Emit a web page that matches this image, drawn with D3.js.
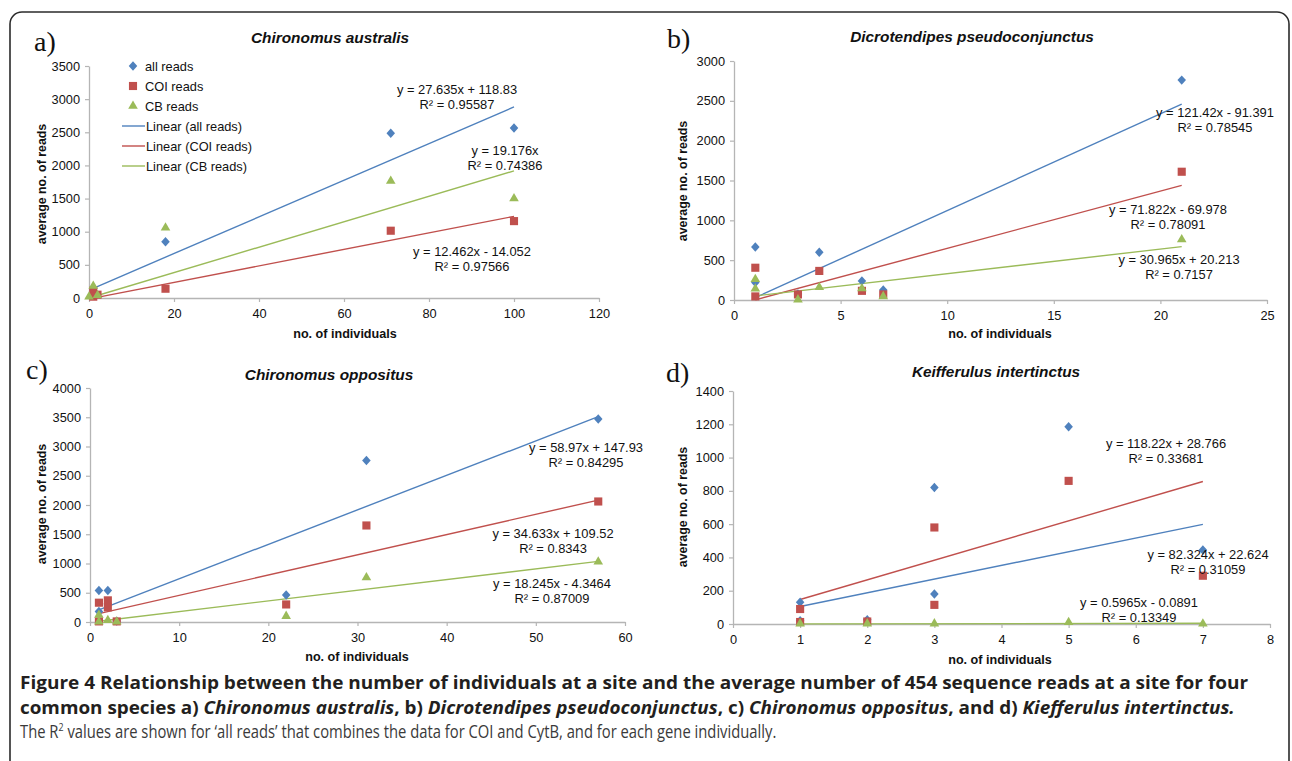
<!DOCTYPE html>
<html>
<head>
<meta charset="utf-8">
<script src="https://cdn.jsdelivr.net/npm/d3@7"></script>
<style>
body { margin: 0; background: #fff; }
</style>
</head>
<body>
<svg width="1292" height="761"></svg>
<script>
// ---- data: [no. of individuals, average no. of reads] ----
// a) Chironomus australis
var aAll = [[1,140],[1,40],[18,850],[71,2485],[100,2565]];
var aCOI = [[1,110],[2,50],[1,20],[18,140],[71,1015],[100,1160]];
var aCB  = [[1,180],[0,20],[2,40],[18,1060],[71,1765],[100,1500]];
var aFit = [[27.635,118.83],[12.462,-14.052],[19.176,0]];      // all, COI, CB
var aEq  = [["y = 27.635x + 118.83","R² = 0.95587"],
            ["y = 12.462x - 14.052","R² = 0.97566"],
            ["y = 19.176x","R² = 0.74386"]];
var aXTicks = [0,20,40,60,80,100,120];
var aYTicks = [0,500,1000,1500,2000,2500,3000,3500];

// b) Dicrotendipes pseudoconjunctus
var bAll = [[1,665],[1,220],[3,75],[4,598],[6,240],[7,125],[21,2760]];
var bCOI = [[1,405],[1,45],[3,70],[4,365],[6,115],[7,70],[21,1610]];
var bCB  = [[1,260],[1,140],[3,5],[4,160],[6,145],[7,45],[21,760]];
var bFit = [[121.42,-91.391],[71.822,-69.978],[30.965,20.213]];
var bEq  = [["y = 121.42x - 91.391","R² = 0.78545"],
            ["y = 71.822x - 69.978","R² = 0.78091"],
            ["y = 30.965x + 20.213","R² = 0.7157"]];
var bXTicks = [0,5,10,15,20,25];
var bYTicks = [0,500,1000,1500,2000,2500,3000];

// c) Chironomus oppositus
var cAll = [[1,540],[2,540],[1,180],[3,15],[22,460],[31,2760],[57,3470]];
var cCOI = [[1,330],[2,370],[2,250],[3,10],[1,10],[22,300],[31,1650],[57,2060]];
var cCB  = [[1,120],[1,5],[2,30],[3,5],[22,100],[31,760],[57,1030]];
var cFit = [[58.97,147.93],[34.633,109.52],[18.245,-4.3464]];
var cEq  = [["y = 58.97x + 147.93","R² = 0.84295"],
            ["y = 34.633x + 109.52","R² = 0.8343"],
            ["y = 18.245x - 4.3464","R² = 0.87009"]];
var cXTicks = [0,10,20,30,40,50,60];
var cYTicks = [0,500,1000,1500,2000,2500,3000,3500,4000];

// d) Keifferulus intertinctus
var dAll = [[1,130],[1,20],[2,25],[3,820],[3,180],[5,1185],[7,445]];
var dCOI = [[1,90],[1,12],[2,15],[3,580],[3,115],[5,860],[7,290]];
var dCB  = [[1,2],[2,2],[3,2],[5,10],[7,1]];
var dFit = [[82.324,22.624],[118.22,28.766],[0.5965,-0.0891]];
var dEq  = [["y = 82.324x + 22.624","R² = 0.31059"],
            ["y = 118.22x + 28.766","R² = 0.33681"],
            ["y = 0.5965x - 0.0891","R² = 0.13349"]];
var dXTicks = [0,1,2,3,4,5,6,7,8];
var dYTicks = [0,200,400,600,800,1000,1200,1400];

var seriesNames = ["all reads","COI reads","CB reads"];
var colors = ["#4f81bd","#c0504d","#9bbb59"];

var diamond = { draw: function(ctx, size) {
  var r = Math.sqrt(size) / 2;
  ctx.moveTo(0,-r); ctx.lineTo(r*0.9,0); ctx.lineTo(0,r); ctx.lineTo(-r*0.9,0); ctx.closePath();
}};
var shapes = [d3.symbol().type(diamond).size(90),
              d3.symbol().type(d3.symbolSquare).size(66),
              d3.symbol().type(d3.symbolTriangle).size(40)];

var panels = [
  {letter:"a)", title:"Chironomus australis", series:[aAll,aCOI,aCB], fit:aFit, eq:aEq,
   xt:aXTicks, yt:aYTicks, box:[89,599,66,298], let:[34,51], tt:[330,43],
   xl:[345,338], yl:[46,184], eqPos:[[457,94],[472,256],[505,155]], legend:true},
  {letter:"b)", title:"Dicrotendipes pseudoconjunctus", series:[bAll,bCOI,bCB], fit:bFit, eq:bEq,
   xt:bXTicks, yt:bYTicks, box:[734,1267,61,300], let:[667,48], tt:[972,42],
   xl:[1000,338], yl:[687,181], eqPos:[[1215,117],[1168,214],[1179,264]]},
  {letter:"c)", title:"Chironomus oppositus", series:[cAll,cCOI,cCB], fit:cFit, eq:cEq,
   xt:cXTicks, yt:cYTicks, box:[90,625,388,622], let:[26,379], tt:[329,380],
   xl:[357,661], yl:[46,504], eqPos:[[586,452],[553,538],[552,588]]},
  {letter:"d)", title:"Keifferulus intertinctus", series:[dAll,dCOI,dCB], fit:dFit, eq:dEq,
   xt:dXTicks, yt:dYTicks, box:[733,1270,391,624], let:[666,382], tt:[996,377],
   xl:[1000,664], yl:[687,507], eqPos:[[1208,559],[1166,448],[1139,607]]}
];

var svg = d3.select("svg");
var sans = "Liberation Sans, Arial, sans-serif";

// rounded frame
svg.append("rect")
   .attr("x", 10).attr("y", 12)
   .attr("width", 1279).attr("height", 800)
   .attr("rx", 12)
   .attr("fill", "none")
   .attr("stroke", "#2b2b2b")
   .attr("stroke-width", 1.6);

panels.forEach(function(p) {
  var x = d3.scaleLinear().domain(d3.extent(p.xt)).range([p.box[0], p.box[1]]);
  var y = d3.scaleLinear().domain(d3.extent(p.yt)).range([p.box[3], p.box[2]]);
  var g = svg.append("g");

  var xAxis = g.append("g")
    .attr("transform", "translate(0," + p.box[3] + ")")
    .call(d3.axisBottom(x).tickValues(p.xt).tickFormat(d3.format("d"))
          .tickSize(4).tickSizeOuter(0).tickPadding(7));
  var yAxis = g.append("g")
    .attr("transform", "translate(" + p.box[0] + ",0)")
    .call(d3.axisLeft(y).tickValues(p.yt).tickFormat(d3.format("d"))
          .tickSize(4).tickSizeOuter(0).tickPadding(5));
  [xAxis, yAxis].forEach(function(a) {
    a.select(".domain").attr("stroke", "#b5b5b5").attr("stroke-width", 1.3);
    a.selectAll(".tick line").attr("stroke", "#b5b5b5").attr("stroke-width", 1.2);
    a.selectAll(".tick text")
     .attr("fill", "#111")
     .attr("font-family", sans)
     .attr("font-size", "12.8px");
  });

  // titles
  g.append("text")
   .attr("x", p.let[0]).attr("y", p.let[1])
   .attr("font-family", "Liberation Serif, serif")
   .attr("font-size", "28px")
   .attr("fill", "#111")
   .text(p.letter);
  g.append("text")
   .attr("x", p.tt[0]).attr("y", p.tt[1])
   .attr("text-anchor", "middle")
   .attr("font-family", sans)
   .attr("font-size", "15.4px")
   .attr("font-weight", "bold")
   .attr("font-style", "italic")
   .attr("fill", "#111")
   .text(p.title);
  g.append("text")
   .attr("x", p.xl[0]).attr("y", p.xl[1])
   .attr("text-anchor", "middle")
   .attr("font-family", sans)
   .attr("font-size", "12.6px")
   .attr("font-weight", "bold")
   .attr("fill", "#111")
   .text("no. of individuals");
  g.append("text")
   .attr("transform", "translate(" + p.yl[0] + "," + p.yl[1] + ") rotate(-90)")
   .attr("text-anchor", "middle")
   .attr("font-family", sans)
   .attr("font-size", "12.4px")
   .attr("font-weight", "bold")
   .attr("fill", "#111")
   .text("average no. of reads");

  // trend lines
  p.series.forEach(function(s, i) {
    var ext = d3.extent(s, function(d) { return d[0]; });
    var f = p.fit[i];
    g.append("line")
     .attr("x1", x(ext[0])).attr("y1", y(f[0] * ext[0] + f[1]))
     .attr("x2", x(ext[1])).attr("y2", y(f[0] * ext[1] + f[1]))
     .attr("stroke", colors[i])
     .attr("stroke-width", 1.4);
  });

  // points
  p.series.forEach(function(s, i) {
    g.selectAll(".pt" + i)
     .data(s)
     .enter()
     .append("path")
     .attr("class", "pt" + i)
     .attr("d", shapes[i])
     .attr("transform", function(d) { return "translate(" + x(d[0]) + "," + y(d[1]) + ")"; })
     .attr("fill", colors[i]);
  });

  // equation labels
  p.eq.forEach(function(e, i) {
    var t = g.append("text")
      .attr("text-anchor", "middle")
      .attr("font-family", sans)
      .attr("font-size", "12.9px")
      .attr("fill", "#111");
    t.append("tspan").attr("x", p.eqPos[i][0]).attr("y", p.eqPos[i][1]).text(e[0]);
    t.append("tspan").attr("x", p.eqPos[i][0]).attr("y", p.eqPos[i][1] + 14.5).text(e[1]);
  });

  if (p.legend) {
    var lg = g.append("g")
      .attr("font-family", sans)
      .attr("font-size", "12.8px")
      .attr("fill", "#111");
    seriesNames.forEach(function(n, i) {
      lg.append("path").attr("d", shapes[i])
        .attr("transform", "translate(133," + (66 + i * 20) + ")")
        .attr("fill", colors[i]);
      lg.append("text").attr("x", 145).attr("y", 70.5 + i * 20).text(n);
      lg.append("line")
        .attr("x1", 122).attr("x2", 145)
        .attr("y1", 126 + i * 20).attr("y2", 126 + i * 20)
        .attr("stroke", colors[i]).attr("stroke-width", 1.4);
      lg.append("text").attr("x", 146).attr("y", 130.5 + i * 20).text("Linear (" + n + ")");
    });
  }
});

// ---- caption ----
var cap = svg.append("g")
  .attr("font-family", "Open Sans, Noto Sans, sans-serif")
  .attr("font-size", "17.5px");

var line1 = cap.append("text").attr("x", 20).attr("y", 689)
  .attr("font-weight", "bold").attr("fill", "#231f20");
line1.append("tspan").text("Figure 4");
line1.append("tspan").text(" Relationship between the number of individuals at a site and the average number of 454 sequence reads at a site for four");

var line2Parts = [["common species a) ", false], ["Chironomus australis", true], [", b) ", false],
                  ["Dicrotendipes pseudoconjunctus", true], [", c) ", false],
                  ["Chironomus oppositus", true], [", and d) ", false],
                  ["Kiefferulus intertinctus.", true]];
var line2 = cap.append("text").attr("x", 20).attr("y", 714)
  .attr("font-weight", "bold").attr("fill", "#231f20");
line2Parts.forEach(function(pt) {
  line2.append("tspan").attr("font-style", pt[1] ? "italic" : "normal").text(pt[0]);
});

var line3 = cap.append("text").attr("x", 20).attr("y", 738).attr("fill", "#3a3a3a");
line3.append("tspan").text("The R");
line3.append("tspan").attr("dy", -7).attr("font-size", "0.6em").text("2");
line3.append("tspan").attr("dy", 7).text(" values are shown for \u2018all reads\u2019 that combines the data for COI and CytB, and for each gene individually.");

// the caption face is condensed: squeeze each line horizontally to its width
[[line1, 1229], [line2, 1216], [line3, 757]].forEach(function(l) {
  var w = l[0].node().getComputedTextLength();
  var sx = l[1] / w;
  l[0].attr("transform", "translate(20,0) scale(" + sx + ",1) translate(-20,0)");
});
</script>
</body>
</html>
